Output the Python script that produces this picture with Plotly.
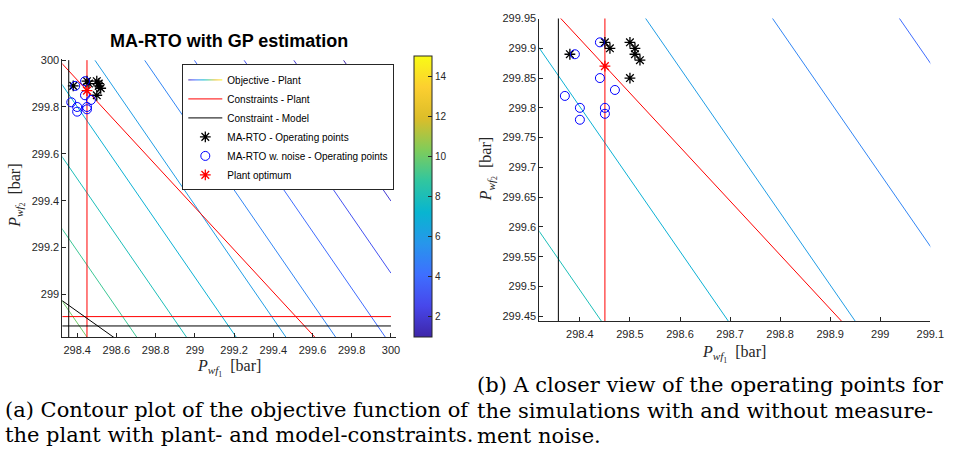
import plotly.graph_objects as go

# ---------------- data ----------------
# objective-function grid (plane; corner values)
OBJ_X = [298.31, 300.0]
OBJ_Y = [298.8, 300.0]
OBJ_Z = [[10.610, 3.944],
         [6.711, 0.045]]
LEVEL_START, LEVEL_END, LEVEL_STEP = 1, 15, 1
CBAR_MIN, CBAR_MAX = 1, 15
CBAR_TICKS = [2, 4, 6, 8, 10, 12, 14]

# plant constraints (vertical, horizontal, diagonal)
PLANT_CON_X = [298.45, 298.45, None, 298.31, 300.0, None, 298.31, 299.70]
PLANT_CON_Y = [298.80, 300.0, None, 298.905, 298.905, None, 299.997, 298.7375]
# model constraints (vertical, horizontal, diagonal)
MODEL_CON_X = [298.357, 298.357, None, 298.31, 300.0, None, 298.31, 298.70]
MODEL_CON_Y = [298.80, 300.0, None, 298.865, 298.865, None, 298.981, 298.749]

MA_X = [298.38, 298.45, 298.46, 298.50, 298.51, 298.51, 298.52, 298.50]
MA_Y = [299.89, 299.91, 299.90, 299.91, 299.90, 299.89, 299.88, 299.85]
NOISE_X = [298.44, 298.39, 298.44, 298.47, 298.37, 298.40, 298.45, 298.40, 298.45]
NOISE_Y = [299.91, 299.89, 299.85, 299.83, 299.82, 299.80, 299.80, 299.78, 299.79]
OPT_X = [298.45]
OPT_Y = [299.87]

X1_TICKS = [298.4, 298.6, 298.8, 299.0, 299.2, 299.4, 299.6, 299.8, 300.0]
X1_LABELS = ["298.4", "298.6", "298.8", "299", "299.2", "299.4", "299.6", "299.8", "300"]
Y1_TICKS = [299.0, 299.2, 299.4, 299.6, 299.8, 300.0]
Y1_LABELS = ["299", "299.2", "299.4", "299.6", "299.8", "300"]
X2_TICKS = [298.4, 298.5, 298.6, 298.7, 298.8, 298.9, 299.0, 299.1]
X2_LABELS = ["298.4", "298.5", "298.6", "298.7", "298.8", "298.9", "299", "299.1"]
Y2_TICKS = [299.45, 299.5, 299.55, 299.6, 299.65, 299.7, 299.75, 299.8, 299.85, 299.9, 299.95]
Y2_LABELS = ["299.45", "299.5", "299.55", "299.6", "299.65", "299.7", "299.75",
             "299.8", "299.85", "299.9", "299.95"]

TITLE = "MA-RTO with GP estimation"
CAPTION_A = ["(a) Contour plot of the objective function of",
             "the plant with plant- and model-constraints."]
CAPTION_B = ["(b) A closer view of the operating points for",
             "the simulations with and without measure-",
             "ment noise."]

# ---------------- styling ----------------
W, H = 963, 468
PARULA = [
    [0.000, "rgb(62,38,168)"], [0.111, "rgb(71,71,235)"], [0.222, "rgb(62,111,255)"],
    [0.333, "rgb(39,150,235)"], [0.444, "rgb(8,181,208)"], [0.556, "rgb(49,198,159)"],
    [0.667, "rgb(129,204,89)"], [0.778, "rgb(220,189,41)"], [0.889, "rgb(252,207,48)"],
    [1.000, "rgb(249,251,21)"],
]
AX = "#262626"
SANS = "Liberation Sans"
SERIF = "Liberation Serif"


def px_x(p):
    return p / W


def px_y(p):
    return (H - p) / H


fig = go.Figure()

for i, (xa, ya) in enumerate([("x", "y"), ("x2", "y2")]):
    first = i == 0
    fig.add_trace(go.Contour(
        x=OBJ_X, y=OBJ_Y, z=OBJ_Z, xaxis=xa, yaxis=ya,
        name="Objective - Plant", showlegend=first, showscale=False,
        colorscale=PARULA, zmin=CBAR_MIN, zmax=CBAR_MAX, zauto=False,
        autocontour=False,
        contours=dict(start=LEVEL_START, end=LEVEL_END, size=LEVEL_STEP,
                      coloring="lines"),
        line=dict(width=1), hoverinfo="skip",
    ))
    fig.add_trace(go.Scatter(
        x=PLANT_CON_X, y=PLANT_CON_Y, xaxis=xa, yaxis=ya, mode="lines",
        line=dict(color="#ff0000", width=1), name="Constraints - Plant",
        showlegend=first, connectgaps=False,
    ))
    fig.add_trace(go.Scatter(
        x=MODEL_CON_X, y=MODEL_CON_Y, xaxis=xa, yaxis=ya, mode="lines",
        line=dict(color="#000000", width=1), name="Constraint - Model",
        showlegend=first, connectgaps=False,
    ))
    fig.add_trace(go.Scatter(
        x=MA_X, y=MA_Y, xaxis=xa, yaxis=ya, mode="markers",
        marker=dict(symbol="asterisk-open", size=9, color="#000000",
                    line=dict(color="#000000", width=1.3)),
        name="MA-RTO - Operating points", showlegend=first,
    ))
    fig.add_trace(go.Scatter(
        x=NOISE_X, y=NOISE_Y, xaxis=xa, yaxis=ya, mode="markers",
        marker=dict(symbol="circle-open", size=9, color="#0000ff",
                    line=dict(color="#0000ff", width=1)),
        name="MA-RTO w. noise - Operating points", showlegend=first,
    ))
    fig.add_trace(go.Scatter(
        x=OPT_X, y=OPT_Y, xaxis=xa, yaxis=ya, mode="markers",
        marker=dict(symbol="asterisk-open", size=9, color="#ff0000",
                    line=dict(color="#ff0000", width=1.3)),
        name="Plant optimum", showlegend=first,
    ))

# continuous colour bar (MATLAB style)
fig.add_trace(go.Scatter(
    x=[None], y=[None], mode="markers", showlegend=False, hoverinfo="skip",
    marker=dict(color=[CBAR_MIN], colorscale=PARULA, cmin=CBAR_MIN, cmax=CBAR_MAX,
                showscale=True,
                colorbar=dict(x=px_x(420), xanchor="left", xpad=0, ypad=0,
                              y=px_y(336), yanchor="bottom",
                              len=(336 - 50.7) / H, lenmode="fraction",
                              thickness=18, thicknessmode="pixels",
                              outlinewidth=1, outlinecolor=AX,
                              tickvals=CBAR_TICKS, ticks="inside", ticklen=4,
                              tickcolor=AX,
                              tickfont=dict(family=SANS, size=10, color=AX))),
))

axis_common = dict(showline=True, linecolor=AX, linewidth=1, ticks="inside",
                   ticklen=4, tickcolor=AX, showgrid=False, zeroline=False,
                   mirror=False, tickfont=dict(family=SANS, size=11, color=AX))

fig.update_layout(
    width=W, height=H, margin=dict(l=0, r=0, t=0, b=0),
    paper_bgcolor="white", plot_bgcolor="white",
    font=dict(family=SANS, color=AX),
    xaxis=dict(domain=[px_x(63.3), px_x(401.7)], range=[298.3246, 300.025],
               tickvals=X1_TICKS, ticktext=X1_LABELS, anchor="y",
               ticklabelstandoff=3, **axis_common),
    yaxis=dict(domain=[px_y(336), px_y(53.3)], range=[298.818, 300.007],
               tickvals=Y1_TICKS, ticktext=Y1_LABELS, anchor="x", **axis_common),
    xaxis2=dict(domain=[px_x(547.3), px_x(944)], range=[298.319, 299.1],
                tickvals=X2_TICKS, ticktext=X2_LABELS, anchor="y2",
                ticklabelstandoff=3, **axis_common),
    yaxis2=dict(domain=[px_y(320), px_y(12.7)], range=[299.4417, 299.95],
                tickvals=Y2_TICKS, ticktext=Y2_LABELS, anchor="x2", **axis_common),
    legend=dict(x=px_x(185), y=px_y(59.3), xanchor="left", yanchor="top",
                bgcolor="white", bordercolor=AX, borderwidth=1,
                font=dict(family=SANS, size=10, color="#000000"),
                itemwidth=34, tracegroupgap=0),
)

xlab = "<i>P</i><sub><i>wf</i><sub>1</sub></sub>  [bar]"
ylab = "<i>P</i><sub><i>wf</i><sub>2</sub></sub>  [bar]"
lab_font = dict(family=SERIF, size=16, color=AX)
ann = [
    dict(text="<b>%s</b>" % TITLE, x=px_x(232.5), y=px_y(36),
         font=dict(family=SANS, size=18, color="#000000")),
    dict(text=xlab, x=px_x(232.5), y=px_y(367), font=lab_font),
    dict(text=ylab, x=px_x(17), y=px_y(193), textangle=-90, font=lab_font),
    dict(text=xlab, x=px_x(745), y=px_y(353), font=lab_font),
    dict(text=ylab, x=px_x(495), y=px_y(166), textangle=-90, font=lab_font),
]
cap_font = dict(family="DejaVu Serif", size=21, color="#000000")
for line, yy in zip(CAPTION_A, [410, 436]):
    ann.append(dict(text=line, x=px_x(3), y=px_y(yy), xanchor="left", font=cap_font))
for line, yy in zip(CAPTION_B, [385, 411, 437]):
    ann.append(dict(text=line, x=px_x(482), y=px_y(yy), xanchor="left", font=cap_font))
for a in ann:
    a.setdefault("xanchor", "center")
    a.update(xref="paper", yref="paper", yanchor="middle", showarrow=False)
fig.update_layout(annotations=ann)

fig.write_html("out.html")
